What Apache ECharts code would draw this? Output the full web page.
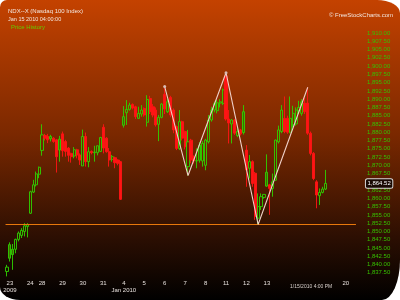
<!DOCTYPE html>
<html><head><meta charset="utf-8">
<script src="https://cdn.jsdelivr.net/npm/echarts/dist/echarts.min.js"></script>
<style>
html,body{margin:0;padding:0;background:#fff;}
#c{width:400px;height:300px;background:linear-gradient(to bottom,#c44200 0%,#7a2800 45%,#2a0e02 80%,#000 100%);
border-top-left-radius:7px;border-top-right-radius:23px 13px;border-bottom-right-radius:18px 40px;border-bottom-left-radius:20px 13px;overflow:hidden;}
</style></head><body><div id="c"></div>
<script>
// hourly bars, Dec 22 (last bar) .. Jan 15 2010
const opens  = [1837.9,1846.0,1844.6,1844.6,1847.6,1848.8,1850.0,1851.5,1855.5,1861.9,1864.1,1867.3,1874.5,1879.0,1878.7,1878.7,1878.2,1877.7,1877.9,1879.5,1877.2,1875.2,1873.6,1872.8,1874.7,1873.1,1869.8,1878.7,1871.1,1874.2,1873.8,1873.8,1874.2,1881.5,1878.2,1874.1,1871.8,1872.3,1871.6,1871.1,1884.7,1885.9,1886.9,1888.4,1887.7,1884.2,1885.5,1887.2,1883.0,1890.2,1887.7,1886.7,1882.4,1884.5,1891.5,1886.2,1890.5,1886.7,1881.7,1875.1,1883.2,1880.2,1869.6,1877.6,1872.6,1871.3,1876.1,1871.3,1870.0,1877.1,1883.7,1886.7,1886.5,1888.8,1888.7,1897.0,1884.0,1882.5,1883.7,1879.0,1880.7,1886.2,1874.6,1869.1,1871.1,1867.6,1854.0,1857.5,1860.3,1867.9,1864.1,1863.0,1865.5,1877.1,1880.2,1884.2,1884.2,1880.0,1882.2,1882.5,1886.5,1885.7,1888.8,1888.8,1879.7,1873.6,1865.0,1860.8,1861.8,1862.8];
const closes = [1839.2,1841.9,1843.0,1847.6,1849.5,1850.3,1851.7,1852.0,1862.0,1864.1,1867.4,1869.4,1879.2,1878.2,1877.7,1878.0,1877.2,1872.6,1874.6,1874.4,1874.2,1873.0,1872.6,1874.7,1873.1,1871.6,1878.7,1871.1,1874.1,1873.8,1874.0,1875.9,1878.4,1875.2,1874.1,1871.6,1872.6,1870.8,1870.6,1859.7,1882.1,1886.9,1888.2,1887.3,1884.7,1885.7,1886.7,1885.2,1889.9,1886.2,1885.2,1882.2,1884.5,1888.5,1887.0,1889.2,1885.2,1880.7,1875.1,1883.2,1878.2,1875.6,1877.1,1871.6,1871.3,1871.4,1871.5,1876.6,1877.6,1883.7,1886.7,1888.7,1888.9,1889.2,1892.8,1884.0,1882.8,1883.7,1879.7,1880.2,1879.5,1879.9,1868.6,1871.1,1864.5,1854.5,1857.5,1860.5,1861.2,1863.7,1863.0,1865.0,1877.6,1880.7,1886.7,1880.2,1880.0,1884.2,1885.7,1886.7,1887.5,1889.2,1886.2,1879.7,1873.6,1866.0,1861.0,1861.8,1862.8,1864.52];
const lows   = [1836.4,1840.9,1838.4,1843.4,1847.0,1848.0,1848.5,1848.2,1855.3,1861.6,1863.6,1866.1,1872.9,1877.5,1876.7,1877.2,1876.8,1867.8,1871.1,1872.6,1872.6,1871.1,1870.8,1872.1,1872.1,1870.1,1869.8,1869.6,1869.4,1873.3,1871.1,1873.0,1874.0,1873.6,1873.8,1869.6,1871.1,1869.1,1870.0,1859.5,1881.4,1882.2,1886.5,1886.9,1884.0,1884.0,1884.7,1884.7,1881.7,1885.5,1884.5,1881.7,1877.3,1884.2,1885.5,1885.8,1884.5,1879.7,1874.6,1874.6,1877.5,1874.8,1866.9,1870.6,1870.5,1869.1,1870.8,1869.6,1868.5,1876.6,1883.2,1886.0,1885.7,1887.5,1888.2,1883.5,1876.6,1876.6,1879.2,1878.5,1879.0,1879.3,1863.5,1866.0,1863.5,1853.5,1852.1,1856.5,1859.9,1863.5,1855.0,1860.5,1865.3,1876.6,1879.7,1879.7,1879.5,1879.7,1881.5,1882.0,1885.5,1885.0,1885.5,1879.2,1873.0,1865.5,1857.0,1858.0,1861.5,1862.5];
const highs  = [1839.9,1846.7,1846.2,1847.8,1850.0,1851.0,1852.5,1852.5,1862.3,1865.6,1868.1,1869.6,1882.4,1879.5,1879.5,1879.2,1878.5,1877.9,1878.9,1880.2,1877.7,1875.5,1873.8,1875.5,1875.0,1873.6,1880.8,1879.9,1875.5,1874.5,1875.9,1876.0,1878.6,1882.4,1878.5,1875.2,1873.1,1872.6,1871.8,1871.3,1887.9,1889.7,1888.9,1888.7,1888.0,1887.7,1888.2,1887.5,1891.2,1891.0,1888.5,1887.5,1885.2,1888.8,1893.8,1890.0,1891.0,1887.2,1882.0,1886.7,1883.5,1880.5,1880.7,1878.0,1873.0,1875.1,1877.0,1877.3,1878.0,1885.2,1887.7,1889.2,1889.7,1890.0,1893.2,1898.0,1886.7,1884.0,1884.0,1881.2,1881.0,1888.2,1876.1,1873.1,1871.5,1868.0,1861.5,1861.5,1861.3,1873.3,1864.4,1867.5,1877.8,1882.0,1888.2,1890.8,1885.0,1890.8,1888.0,1887.5,1889.5,1890.0,1890.5,1893.6,1880.2,1874.0,1865.5,1863.0,1863.5,1868.6];

// x axis day ticks (bar index where each day starts)
const dayStartIdx = [1,8,12,19,26,33,40,47,54,61,68,75,82,89,116];
const dayLabels   = ['23\n2009','24','28','29','30','31','4\nJan 2010','5','6','7','8','11','12','13','20'];
const totalSlots = 120;

// pattern (zig-zag) points
const patternIdx = [54,62,75,86,103];
const patternVal = [1893.8,1866.9,1898.0,1852.1,1893.6];

const supportLevel = 1852.3;
const lastPrice = 1864.52;

const GREEN='#2fd200', RED='#ff1414', OLIVE='#3f6e00';
const cats = Array.from({length: totalSlots}, (_, i) => String(i));
const candleData = opens.map((o, i) => {
  const c = closes[i];
  const prev = i > 0 ? closes[i-1] : o;
  const up = c >= prev;
  const hollow = c > o;
  const col = up ? GREEN : RED;
  const fill = hollow ? 'rgba(0,0,0,0)' : (up ? OLIVE : RED);
  return {value:[o, c, lows[i], highs[i]], itemStyle:{color:fill,color0:fill,borderColor:col,borderColor0:col}};
});
const patternData = patternIdx.map((x, k) => [x, patternVal[k]]);
const labelMap = {};
dayStartIdx.forEach((d, k) => labelMap[d] = dayLabels[k]);

const chart = echarts.init(document.getElementById('c'), null, {renderer:'canvas'});
const FONT = 'Liberation Sans';
chart.setOption({
  backgroundColor: 'transparent',
  animation: false,
  grid: {left: 5.54, width: 350.4, top: 33, height: 248.03},
  xAxis: {
    type: 'category', data: cats, boundaryGap: true,
    axisLine: {show:false}, axisTick: {show:false}, splitLine: {show:false},
    axisLabel: {
      interval: (idx) => labelMap[idx] !== undefined,
      formatter: (v, idx) => labelMap[idx] || '',
      color: '#e6e0dc', fontSize: 6, lineHeight: 7, fontFamily: FONT, margin: -1
    }
  },
  yAxis: {
    type: 'value', position: 'right', min: 1835, max: 1910, interval: 2.5, scale: true,
    axisLine: {show:false}, axisTick: {show:false}, splitLine: {show:false},
    axisLabel: {
      margin: 11, color: '#36c000', fontSize: 6, fontFamily: FONT,
      formatter: (v) => (v < 1837 || Math.abs(v - 1865) < 0.01) ? '' :
        v.toLocaleString('en-US', {minimumFractionDigits:2, maximumFractionDigits:2})
    }
  },
  series: [
    {
      type: 'candlestick', data: candleData, barWidth: 2.6,
      itemStyle: {borderWidth: 0.9},
      markLine: {
        silent: true, symbol: ['none','none'], animation: false,
        data: [
          {yAxis: supportLevel, lineStyle: {color:'#e8780c', width:1, type:'solid'}, label:{show:false}},
          {yAxis: lastPrice, lineStyle: {color:'rgba(0,0,0,0)', width:0.1}, label: {
            show: true, position: 'end', distance: 10,
            formatter: () => lastPrice.toLocaleString('en-US',{minimumFractionDigits:2}),
            color: '#ffffff', fontSize: 6, fontFamily: FONT, opacity: 1,
            backgroundColor: '#1a0a04', borderColor: '#d8d8d8', borderWidth: 1, borderRadius: 1.5,
            padding: [1.5, 1.5, 1, 1.5]
          }}
        ]
      }
    },
    {
      type: 'line', data: patternData, z: 5,
      lineStyle: {color: '#efcfc6', width: 1.1},
      symbol: 'circle', symbolSize: 3, itemStyle: {color: '#d9bcb4'}
    }
  ],
  graphic: [
    {type:'text', left: 8, top: 8, style:{text:'NDX--X (Nasdaq 100 Index)', fill:'#f3e6de', font:'6px "Liberation Sans"'}},
    {type:'text', left: 8, top: 16, style:{text:'Jan 15 2010 04:00:00', fill:'#f3e6de', font:'5.5px "Liberation Sans"'}},
    {type:'text', left: 11, top: 24, style:{text:'Price History', fill:'#66cc00', font:'6px "Liberation Sans"'}},
    {type:'text', right: 7, top: 12, style:{text:'\u00a9 FreeStockCharts.com', fill:'#f3e6de', font:'6px "Liberation Sans"'}},
    {type:'text', left: 290, top: 284, style:{text:'1/15/2010 4:00 PM', fill:'#d8d0cc', font:'5px "Liberation Sans"'}}
  ]
});
</script></body></html>
